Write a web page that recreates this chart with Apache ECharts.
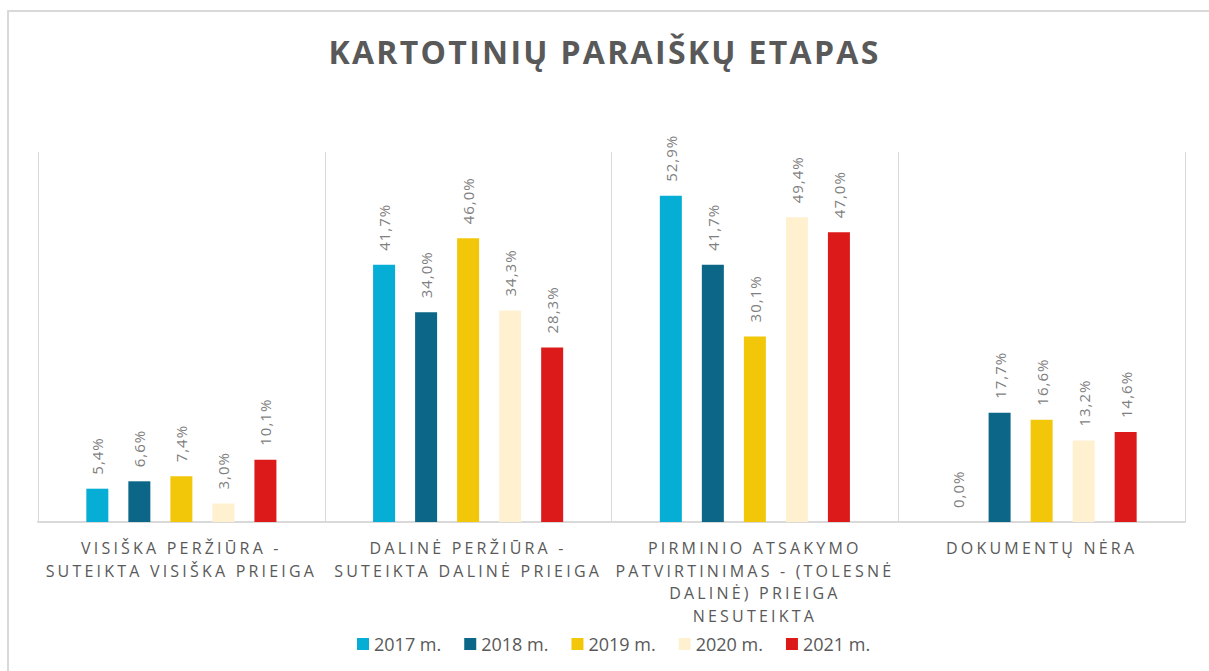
<!DOCTYPE html>
<html>
<head>
<meta charset="utf-8">
<script src="https://cdn.jsdelivr.net/npm/echarts@6/dist/echarts.min.js"></script>
<style>
  html, body { margin: 0; padding: 0; background: #fff; }
  #chart { width: 1209px; height: 671px; }
</style>
</head>
<body>
<div id="chart"></div>
<script>
const TITLE = "KARTOTINIŲ PARAIŠKŲ ETAPAS";

const categories = [
  "VISIŠKA PERŽIŪRA -\nSUTEIKTA VISIŠKA PRIEIGA",
  "DALINĖ PERŽIŪRA -\nSUTEIKTA DALINĖ PRIEIGA",
  "PIRMINIO ATSAKYMO\nPATVIRTINIMAS - (TOLESNĖ\nDALINĖ) PRIEIGA\nNESUTEIKTA",
  "DOKUMENTŲ NĖRA",
];

const years = ["2017 m.", "2018 m.", "2019 m.", "2020 m.", "2021 m."];
const colors = ["#06ADD5", "#0B6688", "#F2C70A", "#FFF0D0", "#DD1A1A"];

const v2017 = [5.4, 41.7, 52.9, 0.0];
const v2018 = [6.6, 34.0, 41.7, 17.7];
const v2019 = [7.4, 46.0, 30.1, 16.6];
const v2020 = [3.0, 34.3, 49.4, 13.2];
const v2021 = [10.1, 28.3, 47.0, 14.6];
const values = [v2017, v2018, v2019, v2020, v2021];

const chartDom = document.getElementById("chart");
const myChart = echarts.init(chartDom, null, { renderer: "svg" });

const fontFamily = "'Open Sans', 'Noto Sans', sans-serif";

function pct(p) {
  return p.value.toFixed(1).replace(".", ",") + "%";
}

const series = years.map(function (name, i) {
  return {
    name: name,
    type: "bar",
    data: values[i],
    barWidth: 22,
    barGap: "91%",
    itemStyle: { color: colors[i] },
    label: {
      show: true,
      position: "top",
      rotate: 90,
      align: "left",
      verticalAlign: "middle",
      distance: 14,
      color: "#7F7F7F",
      fontFamily: fontFamily,
      fontSize: 15,
      formatter: pct,
    },
  };
});

const options = {
  animation: false,
  title: {
    text: TITLE,
    left: "center",
    top: 30,
    textStyle: {
      color: "#595959",
      fontFamily: fontFamily,
      fontWeight: "bold",
      fontSize: 32,
    },
  },
  graphic: [
    {
      type: "rect",
      shape: { x: 8, y: 11, width: 1260, height: 720 },
      style: { fill: "none", stroke: "#D9D9D9", lineWidth: 2 },
      silent: true,
    },
  ],
  legend: {
    top: 635,
    left: 357,
    padding: 0,
    icon: "rect",
    itemWidth: 12,
    itemHeight: 12,
    itemGap: 23,
    textStyle: {
      color: "#595959",
      fontFamily: fontFamily,
      fontSize: 18,
    },
    data: years,
  },
  grid: {
    left: 38,
    right: 24,
    top: 152,
    bottom: 149,
    containLabel: false,
  },
  xAxis: {
    type: "category",
    data: categories,
    axisLine: { lineStyle: { color: "#D9D9D9", width: 2 } },
    axisTick: { show: false },
    splitLine: { show: true, lineStyle: { color: "#D9D9D9", width: 1 } },
    axisLabel: {
      interval: 0,
      margin: 15,
      color: "#595959",
      fontFamily: fontFamily,
      fontSize: 16,
      lineHeight: 22.5,
    },
  },
  yAxis: {
    type: "value",
    min: 0,
    max: 60,
    show: false,
    splitLine: { show: false },
  },
  series: series,
};

myChart.setOption(options);

// spread the letters like the original (svg text honours letter-spacing)
const axisLines = [];
categories.forEach(function (c) {
  c.split("\n").forEach(function (l) { axisLines.push(l.trim()); });
});
function spacingFor(s) {
  if (s === TITLE) return 2.3;
  if (axisLines.indexOf(s) >= 0) return 3.2;
  if (/^\d+,\d%$/.test(s)) return 1;
  return 0;
}
function spaceText() {
  chartDom.querySelectorAll("text").forEach(function (t) {
    const s = t.textContent.replace(/\u00a0/g, " ").trim();
    const ls = spacingFor(s);
    if (ls) {
      t.setAttribute("letter-spacing", ls + "px");
      t.style.letterSpacing = ls + "px";
    }
  });
}
myChart.on("finished", spaceText);
new MutationObserver(spaceText).observe(chartDom, { childList: true, subtree: true });
let n = 0;
const timer = setInterval(function () {
  spaceText();
  if (++n > 30) clearInterval(timer);
}, 50);
spaceText();
</script>
</body>
</html>
